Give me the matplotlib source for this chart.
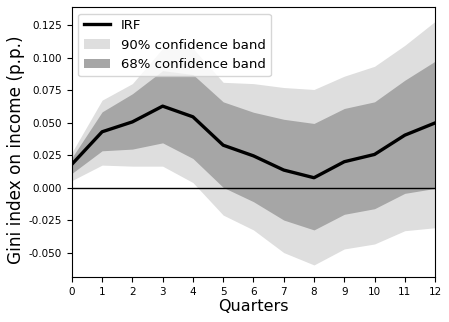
import numpy as np
import matplotlib
matplotlib.use("Agg")
import matplotlib.pyplot as plt

quarters = np.arange(13)
irf = [0.018, 0.043, 0.0506, 0.0627, 0.0545, 0.0327, 0.0245, 0.0136, 0.0077,
       0.020, 0.0256, 0.0404, 0.0498]
upper_68 = [0.023, 0.0583, 0.0722, 0.090, 0.087, 0.066, 0.058, 0.0526, 0.0494,
            0.0609, 0.066, 0.0826, 0.0972]
lower_68 = [0.011, 0.0284, 0.0297, 0.0345, 0.0225, 0.0003, -0.0107, -0.0248,
            -0.0324, -0.0204, -0.0161, -0.0043, -0.0005]
upper_90 = [0.027, 0.0673, 0.080, 0.107, 0.107, 0.081, 0.080, 0.077, 0.0755,
            0.0857, 0.0933, 0.1094, 0.1278]
lower_90 = [0.0055, 0.0174, 0.0166, 0.0166, 0.0040, -0.021, -0.0324, -0.0498,
            -0.0593, -0.047, -0.0432, -0.033, -0.0307]

fig = plt.figure(figsize=(4.49, 3.22), dpi=100)
ax = fig.add_axes([0.160, 0.140, 0.809, 0.838])

ax.fill_between(quarters, lower_90, upper_90, color='#dedede', linewidth=0,
                label='90% confidence band')
ax.fill_between(quarters, lower_68, upper_68, color='#a6a6a6', linewidth=0,
                label='68% confidence band')
ax.plot(quarters, irf, color='black', linewidth=2.4, label='IRF')
ax.axhline(0, color='black', linewidth=1)

ax.set_xlim(0, 12)
ax.set_ylim(-0.0685, 0.1388)
ax.set_xticks(quarters)
ax.set_yticks(np.arange(-0.05, 0.126, 0.025))
ax.yaxis.set_major_formatter(matplotlib.ticker.FormatStrFormatter('%.3f'))
ax.tick_params(labelsize=7.5)

ax.set_xlabel('Quarters', fontsize=11.5, labelpad=2)
ax.set_ylabel('Gini index on income (p.p.)', fontsize=12.2)
ax.yaxis.set_label_coords(-0.13, 0.47)

handles, labels = ax.get_legend_handles_labels()
order = [2, 0, 1]
ax.legend([handles[i] for i in order], [labels[i] for i in order],
          loc='upper left', fontsize=9.5)

fig.savefig('out.png', dpi=100)
